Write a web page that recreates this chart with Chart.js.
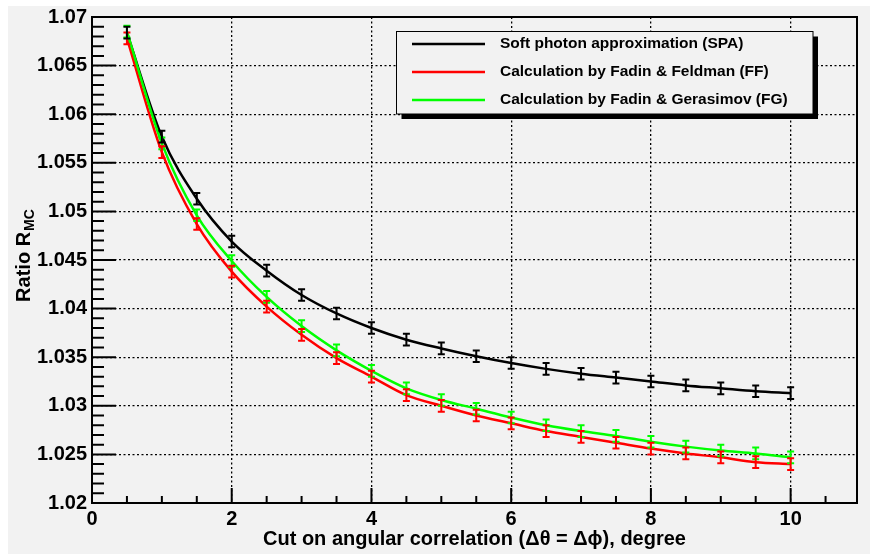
<!DOCTYPE html>
<html>
<head>
<meta charset="utf-8">
<script src="https://cdn.jsdelivr.net/npm/chart.js@4.4.1/dist/chart.umd.min.js"></script>
<style>
  html, body { margin: 0; padding: 0; background: #ffffff; }
  #wrap { width: 870px; height: 555px; }
</style>
</head>
<body>
<div id="wrap"><canvas id="ratioChart" width="870" height="555"></canvas></div>
<script>
// Cut values (degrees) and the MC ratio for the three radiative models
const cuts = [0.5, 1, 1.5, 2, 2.5, 3, 3.5, 4, 4.5, 5, 5.5, 6, 6.5, 7, 7.5, 8, 8.5, 9, 9.5, 10];
const ratioSPA = [1.0684, 1.0577, 1.0513, 1.0469, 1.0439, 1.0414, 1.0395, 1.0380, 1.0368, 1.0359,
                  1.0351, 1.0344, 1.0338, 1.0333, 1.0329, 1.0325, 1.0321, 1.0318, 1.0315, 1.0313];
const ratioFF  = [1.0678, 1.0561, 1.0487, 1.0438, 1.0402, 1.0373, 1.0349, 1.0330, 1.0311, 1.0300,
                  1.0290, 1.0282, 1.0274, 1.0268, 1.0262, 1.0256, 1.0251, 1.0247, 1.0242, 1.0240];
const ratioFG  = [1.0685, 1.0570, 1.0496, 1.0449, 1.0412, 1.0382, 1.0357, 1.0336, 1.0318, 1.0306,
                  1.0297, 1.0288, 1.0280, 1.0274, 1.0269, 1.0263, 1.0258, 1.0254, 1.0251, 1.0247];
const errSPA = [0.0006, 0.0006, 0.0006, 0.0006, 0.0006, 0.0006, 0.0006, 0.0006, 0.0006, 0.0006,
                0.0006, 0.0006, 0.0006, 0.0006, 0.0006, 0.0006, 0.0006, 0.0006, 0.0006, 0.0006];
const errFF  = [0.0006, 0.0006, 0.0006, 0.0006, 0.0006, 0.0006, 0.0006, 0.0006, 0.0006, 0.0006,
                0.0006, 0.0006, 0.0006, 0.0006, 0.0006, 0.0006, 0.0006, 0.0006, 0.0006, 0.0006];
const errFG  = [0.0006, 0.0006, 0.0006, 0.0006, 0.0006, 0.0006, 0.0006, 0.0006, 0.0006, 0.0006,
                0.0006, 0.0006, 0.0006, 0.0006, 0.0006, 0.0006, 0.0006, 0.0006, 0.0006, 0.0006];

const seriesNames = ['Soft photon approximation (SPA)', 'Calculation by Fadin & Feldman (FF)', 'Calculation by Fadin & Gerasimov (FG)'];

const xTickValues = [0, 2, 4, 6, 8, 10];
const xTickLabels = ['0', '2', '4', '6', '8', '10'];
const yTickValues = [1.02, 1.025, 1.03, 1.035, 1.04, 1.045, 1.05, 1.055, 1.06, 1.065, 1.07];
const yTickLabels = ['1.02', '1.025', '1.03', '1.035', '1.04', '1.045', '1.05', '1.055', '1.06', '1.065', '1.07'];

const xTitle = 'Cut on angular correlation (\u0394\u03b8 = \u0394\u03d5), degree';
const yTitle = 'Ratio R';
const yTitleSub = 'MC';

const FONT = '"Liberation Sans", Arial, Helvetica, sans-serif';
const BG = '#f2f2f2';

function points(ys) {
    return cuts.map((x, i) => ({ x: x, y: ys[i] }));
}

// page fill, ROOT-style frame with inner ticks, titles, error bars and legend
const rootStyle = {
    id: 'rootStyle',
    beforeDraw(chart) {
        const ctx = chart.ctx;
        ctx.save();
        ctx.fillStyle = '#ffffff';
        ctx.fillRect(0, 0, chart.width, chart.height);
        ctx.fillStyle = BG;
        ctx.fillRect(8, 6, chart.width - 8, chart.height - 7);
        ctx.restore();
    },
    afterDatasetsDraw(chart) {
        const ctx = chart.ctx;
        const xs = chart.scales.x, ys = chart.scales.y;
        ctx.save();
        ctx.beginPath();
        ctx.rect(chart.chartArea.left, chart.chartArea.top, chart.chartArea.width, chart.chartArea.height);
        ctx.clip();
        chart.data.datasets.forEach(ds => {
            ctx.strokeStyle = ds.borderColor;
            ctx.lineWidth = 2;
            ds.data.forEach((p, i) => {
                const e = ds.errors[i];
                const px = xs.getPixelForValue(p.x);
                const y1 = ys.getPixelForValue(p.y - e);
                const y2 = ys.getPixelForValue(p.y + e);
                ctx.beginPath();
                ctx.moveTo(px, y1); ctx.lineTo(px, y2);
                ctx.moveTo(px - 3.5, y1); ctx.lineTo(px + 3.5, y1);
                ctx.moveTo(px - 3.5, y2); ctx.lineTo(px + 3.5, y2);
                ctx.stroke();
            });
        });
        ctx.restore();
    },
    afterDraw(chart) {
        const ctx = chart.ctx;
        const a = chart.chartArea;
        const xs = chart.scales.x, ys = chart.scales.y;
        ctx.save();
        ctx.strokeStyle = '#000';
        ctx.lineWidth = 2;

        // inner ticks
        ctx.beginPath();
        for (let v = 0; v <= xs.max + 1e-9; v += 0.5) {
            const px = xs.getPixelForValue(v);
            const len = Math.abs(v / 2 - Math.round(v / 2)) < 1e-6 ? 15 : 7;
            ctx.moveTo(px, a.bottom); ctx.lineTo(px, a.bottom - len);
        }
        for (let k = 0; k <= 50; k++) {
            const v = ys.min + k * 0.001;
            const py = ys.getPixelForValue(v);
            const len = k % 5 === 0 ? 24 : 12;
            ctx.moveTo(a.left, py); ctx.lineTo(a.left + len, py);
        }
        ctx.stroke();

        // frame
        ctx.strokeRect(a.left, a.top, a.right - a.left, a.bottom - a.top);

        // axis titles
        ctx.fillStyle = '#000';
        ctx.font = 'bold 20px ' + FONT;
        ctx.textAlign = 'center';
        ctx.textBaseline = 'alphabetic';
        ctx.fillText(xTitle, (a.left + a.right) / 2, 545);

        ctx.save();
        ctx.translate(30, (a.top + a.bottom) / 2 - 4);
        ctx.rotate(-Math.PI / 2);
        ctx.font = 'bold 20px ' + FONT;
        const w1 = ctx.measureText(yTitle).width;
        ctx.font = 'bold 14px ' + FONT;
        const w2 = ctx.measureText(yTitleSub).width;
        const x0 = -(w1 + w2) / 2;
        ctx.textAlign = 'left';
        ctx.font = 'bold 20px ' + FONT;
        ctx.fillText(yTitle, x0, 0);
        ctx.font = 'bold 14px ' + FONT;
        ctx.fillText(yTitleSub, x0 + w1 + 1, 4);
        ctx.restore();

        // legend box with shadow
        const box = { l: 396.5, t: 31.5, r: 813, b: 114 };
        ctx.fillStyle = '#000';
        ctx.fillRect(box.l + 5, box.t + 5, box.r - box.l, box.b - box.t);
        ctx.fillStyle = BG;
        ctx.fillRect(box.l, box.t, box.r - box.l, box.b - box.t);
        ctx.lineWidth = 1;
        ctx.strokeStyle = '#000';
        ctx.strokeRect(box.l, box.t, box.r - box.l, box.b - box.t);

        ctx.font = 'bold 15.5px ' + FONT;
        ctx.textAlign = 'left';
        ctx.textBaseline = 'middle';
        const order = [2, 1, 0];
        seriesNames.forEach((name, i) => {
            const ds = chart.data.datasets[order[i]];
            const y = 44 + i * 28;
            ctx.strokeStyle = ds.borderColor;
            ctx.lineWidth = 2.5;
            ctx.beginPath();
            ctx.moveTo(412, y); ctx.lineTo(485, y);
            ctx.stroke();
            ctx.fillStyle = '#000';
            ctx.fillText(name, 500, y);
        });
        ctx.restore();
    }
};

const lineOpts = {
    pointRadius: 0,
    borderWidth: 2.5,
    fill: false,
    cubicInterpolationMode: 'monotone'
};

new Chart(document.getElementById('ratioChart').getContext('2d'), {
    type: 'line',
    data: {
        datasets: [
            Object.assign({ label: seriesNames[2], data: points(ratioFG), errors: errFG, borderColor: '#00ff00', order: 0 }, lineOpts),
            Object.assign({ label: seriesNames[1], data: points(ratioFF), errors: errFF, borderColor: '#ff0000', order: 1 }, lineOpts),
            Object.assign({ label: seriesNames[0], data: points(ratioSPA), errors: errSPA, borderColor: '#000000', order: 2 }, lineOpts)
        ]
    },
    options: {
        responsive: false,
        animation: false,
        devicePixelRatio: 1,
        layout: { padding: { left: 0, top: 17, right: 13, bottom: 0 } },
        plugins: { legend: { display: false }, tooltip: { enabled: false }, title: { display: false } },
        scales: {
            x: {
                type: 'linear',
                min: 0,
                max: 10.95,
                afterFit: s => { s.height = 52; },
                afterBuildTicks: s => { s.ticks = xTickValues.map(v => ({ value: v })); },
                ticks: {
                    callback: (v, i) => xTickLabels[i],
                    font: { family: FONT, size: 20, weight: 'bold', lineHeight: 1 },
                    color: '#000',
                    padding: 6,
                    maxRotation: 0,
                    autoSkip: false
                },
                grid: { color: '#000', lineWidth: 1.3, drawTicks: false },
                border: { display: false, dash: [2, 2.5] }
            },
            y: {
                type: 'linear',
                min: 1.02,
                max: 1.07,
                afterFit: s => { s.width = 92; },
                afterBuildTicks: s => { s.ticks = yTickValues.map(v => ({ value: v })); },
                ticks: {
                    callback: (v, i) => yTickLabels[i],
                    font: { family: FONT, size: 20, weight: 'bold', lineHeight: 1 },
                    color: '#000',
                    padding: 5,
                    autoSkip: false
                },
                grid: { color: '#000', lineWidth: 1.3, drawTicks: false },
                border: { display: false, dash: [2, 2.5] }
            }
        }
    },
    plugins: [rootStyle]
});
</script>
</body>
</html>
